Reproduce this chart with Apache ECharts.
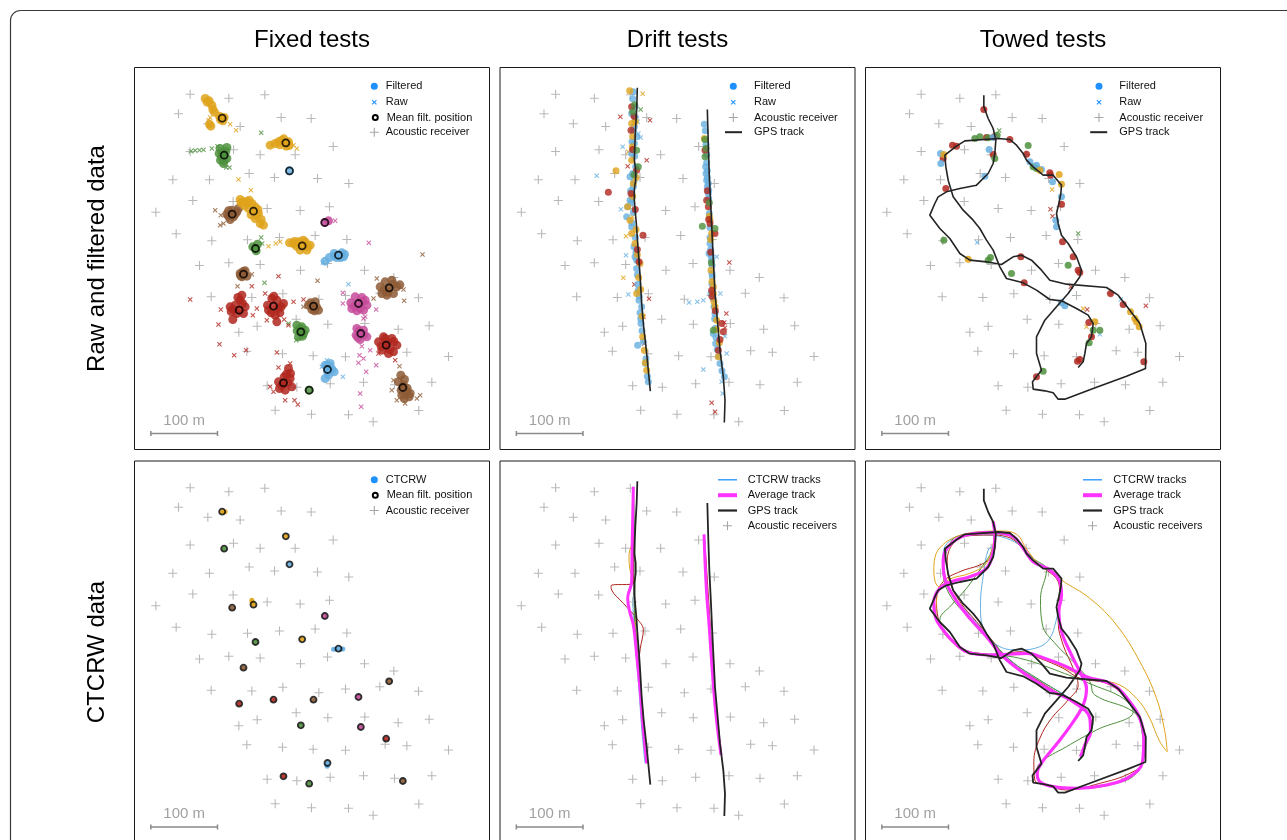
<!DOCTYPE html>
<html>
<head>
<meta charset="utf-8">
<title>Acoustic positioning tests</title>
<script src="https://cdn.jsdelivr.net/npm/echarts/dist/echarts.min.js"></script>
<style>
  html, body { margin: 0; padding: 0; background: #fff; }
  #chart { width: 1287px; height: 840px; }
</style>
</head>
<body>
<div id="chart"></div>
<script>
// ---- Data (local metric grid, metres east / north of the panel origin) ----

// Colour of each tag (one tag per transmitter / test run)
const tagColors = { Y: '#DFA31B', G: '#4E903D', N: '#8D5B35', R: '#B0271F', M: '#C64B9A', B: '#66AFE0' };

// Acoustic receiver array (shared by every test)
const receivers = [
  [83.5,533],[141.5,527],[195.5,532],[66,503.5],[110,488.5],[158.5,484.5],[220,498],[265,496.5],
  [83.5,447],[148.5,449.5],[188.5,442],[241,442],[298,454.5],[57.5,404.5],[112.5,404.5],[172,414],
  [210,408],[274.5,406.5],[321.5,399],[87.5,373.5],[148,372],[199,361.5],[248.5,358.5],[292.5,364],
  [32,356],[62.5,323.5],[116,313],[169.5,314.5],[217.5,318],[271,321],[318.5,315],[97.5,276],
  [141.5,280],[188.5,277.5],[249,269],[289.5,279],[345,269],[389,258],[115,229],[176,228],
  [222.5,233.5],[276.5,225.5],[316.5,231],[368,234.5],[426,227.5],[242.5,195.5],[184,185],[156.5,176],
  [290,188],[345.5,189],[395.5,180.5],[442,185.5],[168.5,147.5],[222,143.5],[268,140.5],[316.5,139],
  [376,148],[408.5,146],[471,139.5],[199,95.5],[243.5,93.5],[293.5,98.5],[343.5,101],[390,97],
  [446,101],[211,59],[265.5,53],[321,52],[358,41.5],[426.5,58.5]
];

// Fixed tests: filtered detections
const fixedFiltered = [
  [106,526.5,'Y'],[112,523,'Y'],[116,516.5,'Y'],[117.5,510,'Y'],[127.5,500,'Y'],[134.5,498,'Y'],[132.5,493,'Y'],[131,497,'Y'],[112.5,488,'Y'],[114.5,485,'Y'],[120,506,'Y'],[109,521,'Y'],[129,495,'Y'],
  [128.5,451.5,'G'],[138.5,453,'G'],[131,439,'G'],[138.5,436.5,'G'],[133.5,429,'G'],[134.5,441.5,'G'],[127,444,'G'],[131,446,'G'],[137,447,'G'],[129,434,'G'],[134,433,'G'],
  [221,464,'Y'],[231,461.5,'Y'],[227.5,455,'Y'],[216,461.5,'Y'],[227,460,'Y'],[211,459,'Y'],[203.5,456.5,'Y'],[224,466,'Y'],[218,457,'Y'],[232,456,'Y'],
  [232.5,418,'B'],
  [138.5,353,'N'],[146,359,'N'],[153.5,356.5,'N'],[148.5,349,'N'],[143.5,345,'N'],[156,361.5,'N'],[146.5,353,'N'],[141,350,'N'],[151,353,'N'],[141,358,'N'],
  [158.5,375,'Y'],[168.5,371.5,'Y'],[176,369,'Y'],[181,364,'Y'],[186,354,'Y'],[181,346.5,'Y'],[188.5,339,'Y'],[193.5,336.5,'Y'],[171,361.5,'Y'],[163.5,371.5,'Y'],[178.5,357.5,'Y'],[175,352,'Y'],
  [165,366,'Y'],[183,351,'Y'],[190,345,'Y'],[172,374,'Y'],[160,370,'Y'],[185,360,'Y'],
  [285.5,340.5,'M'],[291,343,'M'],
  [177.5,304,'G'],[184.5,308,'G'],[182.5,298,'G'],[181.5,301.5,'G'],
  [238.5,309,'Y'],[246,311.5,'Y'],[256,311.5,'Y'],[263.5,306.5,'Y'],[258.5,299,'Y'],[248.5,299,'Y'],[232.5,310,'Y'],[251.5,305.5,'Y'],[243,305,'Y'],[253,314,'Y'],[260,304,'Y'],[240,312,'Y'],
  [299.5,294,'B'],[311,295,'B'],[313.5,289,'B'],[303.5,288,'B'],[292.5,288,'B'],[286,282.5,'B'],[306,291.5,'B'],[300,290,'B'],[309,288,'B'],[315,293,'B'],
  [158.5,264,'N'],[166,268,'N'],[168.5,260,'N'],[161,259,'N'],[163.5,263,'N'],[163,267,'N'],[159,261,'N'],
  [143.5,214,'R'],[151,216.5,'R'],[158.5,224,'R'],[161,231.5,'R'],[166,214,'R'],[163.5,204,'R'],[153.5,204,'R'],[147.5,195,'R'],[157,209,'R'],[148,210,'R'],[162,219,'R'],[155,228,'R'],[145,207,'R'],
  [199.5,216.5,'R'],[206,226.5,'R'],[213.5,224,'R'],[216,211.5,'R'],[211,201.5,'R'],[213.5,191.5,'R'],[223.5,219,'R'],[201,209,'R'],[208.5,215,'R'],[205,205,'R'],[218,205,'R'],[209,230,'R'],[220,214,'R'],
  [261,216.5,'N'],[271,221.5,'N'],[276,209,'N'],[266,210,'N'],[268.5,215,'N'],[264,220,'N'],[273,214,'N'],[270,208,'N'],
  [324.5,220,'M'],[331,229,'M'],[341,228,'M'],[348.5,216.5,'M'],[343.5,209,'M'],[333.5,208,'M'],[326,211.5,'M'],[336,219,'M'],[330,215,'M'],[342,222,'M'],[338,212,'M'],[346,224,'M'],
  [368.5,244,'N'],[376,251.5,'N'],[386,254,'N'],[393.5,244,'N'],[388.5,234,'N'],[378.5,231.5,'N'],[371,234,'N'],[382,242.5,'N'],[375,240,'N'],[388,248,'N'],[380,236,'N'],[398,247,'N'],
  [243.5,186.5,'G'],[248.5,181.5,'G'],[253.5,174,'G'],[246,169,'G'],[256,179,'G'],[249.5,176.5,'G'],[251,184,'G'],[244,178,'G'],[252,170,'G'],
  [333.5,181.5,'M'],[343.5,179,'M'],[348.5,169,'M'],[338.5,165,'M'],[332.5,171.5,'M'],[339.5,174,'M'],[337,178,'M'],[344,172,'M'],[335,168,'M'],
  [366,161.5,'R'],[376,166.5,'R'],[386,166.5,'R'],[393.5,156.5,'R'],[388.5,146.5,'R'],[381,144,'R'],[371,149,'R'],[373.5,169,'R'],[377.5,156.5,'R'],[380,160,'R'],[370,155,'R'],[389,162,'R'],[383,150,'R'],
  [286,126.5,'B'],[293.5,124,'B'],[299.5,116.5,'B'],[291,111.5,'B'],[286,106.5,'B'],[293.5,129,'B'],[289.5,120,'B'],[290,116,'B'],[296,120,'B'],[289,126,'B'],
  [216,101.5,'R'],[224.5,109,'R'],[233.5,106.5,'R'],[236,94,'R'],[226,89,'R'],[217.5,91.5,'R'],[231,121.5,'R'],[223.5,100,'R'],[221,96,'R'],[230,100,'R'],[228,113,'R'],[234,114,'R'],
  [262,89,'G'],
  [399.5,111.5,'N'],[396,101.5,'N'],[403.5,96.5,'N'],[408.5,86.5,'N'],[401,81.5,'N'],[413.5,84,'N'],[404.5,76.5,'N'],[402.5,93,'N'],[405,105,'N'],[400,89,'N'],[409,92,'N'],[412,79,'N']
];

// Fixed tests: raw detections
const fixedRaw = [
  [113.5,498,'Y'],[143.5,488,'Y'],[152.5,479,'Y'],[111,494,'Y'],[243.5,451.5,'Y'],[238.5,456.5,'Y'],[206,456.5,'Y'],[174.5,389,'Y'],[156,405,'Y'],[201,305,'Y'],[212,309,'Y'],[218.5,311.5,'Y'],
  [84.5,447.5,'G'],[91,448.5,'G'],[97.5,449,'G'],[103.5,449.5,'G'],[116,451.5,'G'],[124.5,455,'G'],[137.5,423,'G'],[142.5,423,'G'],[190,475,'G'],[190,318,'G'],[191.5,309,'G'],[242.5,164,'G'],[231,189,'G'],[195,250,'G'],
  [121,359,'N'],[129.5,351.5,'N'],[128.5,336.5,'N'],[133.5,339,'N'],[176,263,'N'],[154.5,245,'N'],[253.5,214,'N'],[274.5,253,'N'],[363.5,256.5,'N'],[403.5,240,'N'],[358.5,226.5,'N'],[432,292.5,'N'],[404.5,223,'N'],[388.5,104,'N'],[386,89,'N'],[393.5,74,'N'],[428.5,81.5,'N'],[423.5,76.5,'N'],[406,69,'N'],[397.5,125,'N'],
  [301,343,'M'],[312.5,219,'M'],[362.5,210,'M'],[346,199,'M'],[351.5,310,'M'],[341,155,'M'],[337.5,141.5,'M'],[343.5,136.5,'M'],[336,130,'M'],[347.5,116.5,'M'],[338.5,84,'M'],[340,64,'M'],[362.5,126.5,'M'],[353.5,149,'M'],[343.5,196.5,'M'],[312.5,235,'M'],
  [282.5,280.5,'B'],[321,248,'B'],[281,124,'B'],[312.5,109,'B'],[288.5,134,'B'],
  [83.5,225,'R'],[129.5,210,'R'],[126,187.5,'R'],[127.5,158,'R'],[149.5,141.5,'R'],[177.5,201.5,'R'],[183.5,211.5,'R'],[176,245,'R'],[167.5,149,'R'],[196,234,'R'],[198.5,194,'R'],[216,260,'R'],[224.5,195,'R'],[238.5,221.5,'R'],[253.5,225,'R'],[231,186.5,'R'],[213.5,145.5,'R'],[366,144,'R'],[391,134,'R'],[216,123,'R'],[233.5,129,'R'],[208.5,86.5,'R'],[226,74,'R'],[240,74,'R'],[245,67.5,'R'],[203.5,94,'R']
];

// Fixed tests: mean filtered position of each tag
const fixedMeans = [
  [131.5,497,'Y'],[134.5,441.5,'G'],[227,460,'Y'],[232.5,418,'B'],[146.5,353,'N'],[178.5,357.5,'Y'],
  [285.5,340.5,'M'],[181.5,301.5,'G'],[251.5,305.5,'Y'],[306,291.5,'B'],[163.5,263,'N'],[157,209,'R'],
  [208.5,215,'R'],[268.5,215,'N'],[336,219,'M'],[382,242.5,'N'],[249.5,176.5,'G'],[339.5,174,'M'],
  [377.5,156.5,'R'],[289.5,120,'B'],[223.5,100,'R'],[262,89,'G'],[402.5,93,'N']
];

// Fixed tests: CTCRW-predicted positions
const fixedCtcrw = [
  [131.5,497,'Y'],[136,497,'Y'],[134.5,441.5,'G'],[227,460,'Y'],[232.5,418,'B'],[146.5,353,'N'],
  [178.5,357.5,'Y'],[176,364,'Y'],[176.5,361,'Y'],[285.5,340.5,'M'],[181.5,301.5,'G'],[251.5,305.5,'Y'],
  [298.5,290.5,'B'],[302,291,'B'],[306,291.5,'B'],[310,291,'B'],[312.5,291,'B'],[163.5,263,'N'],
  [157,209,'R'],[208.5,215,'R'],[268.5,215,'N'],[336,219,'M'],[382,242.5,'N'],[249.5,176.5,'G'],
  [339.5,174,'M'],[377.5,156.5,'R'],[289.5,120,'B'],[288.5,117,'B'],[289,115,'B'],[223.5,100,'R'],
  [262,89,'G'],[402.5,93,'N']
];

// Drift tests: GPS tracks of the two drifts
const driftGpsA = [
  [206,542.5],[205,510],[203,475],[202,450],[201.5,434],[203.5,420],[203.5,404],[201.5,390],[201.5,374],
  [203,355],[204.5,339],[206.5,309],[208.5,284],[210.5,254],[212.5,219],[215.5,184],[220,144],[225.5,87.5]
];
const driftGpsB = [
  [311,510],[312.5,454],[314,409],[316.5,359],[318.5,314],[320.5,274],[322.5,234],[326.5,189],
  [330,149],[335,109],[337.5,74],[336.5,40.5]
];

// Drift tests: filtered detections
const driftFiltered = [
  [200,536.5,'B'],[202.5,514,'B'],[197.5,504,'B'],[201.5,484,'B'],[205,469,'B'],[197.5,444,'B'],[203.5,424,'B'],[195,409,'B'],[200,394,'B'],[198.5,379,'B'],[191.5,364,'B'],[190,349,'B'],[197.5,334,'B'],[201,304,'B'],[202.5,289,'B'],[205,271.5,'B'],[207.5,239,'B'],[208.5,224,'B'],[211.5,189,'B'],[206.5,156.5,'B'],[218.5,129,'B'],[222.5,101.5,'B'],[195,374,'B'],[201.5,459,'B'],[205,284,'B'],[212.5,214,'B'],
  [199,526,'B'],[203,498,'B'],[200,478,'B'],[198,462,'B'],[202,440,'B'],[199,414,'B'],[201,402,'B'],[196,388,'B'],[197,370,'B'],[200,356,'B'],[198,340,'B'],[203,318,'B'],[204,296,'B'],[206,262,'B'],[207,248,'B'],[209,230,'B'],[210,205,'B'],[211,196,'B'],[213,178,'B'],[215,162,'B'],[219,136,'B'],[221,110,'B'],
  [194.5,538,'Y'],[197.5,489,'Y'],[198.5,454,'Y'],[197.5,434,'Y'],[174,418,'Y'],[200,399,'Y'],[195,344,'Y'],[197.5,324,'Y'],[202.5,309,'Y'],[210,279,'Y'],[205,234,'Y'],[214,169,'Y'],[216.5,149,'Y'],[220,119,'Y'],[191.5,364,'Y'],
  [203,492,'Y'],[199,470,'Y'],[204,408,'Y'],[199,380,'Y'],[204,330,'Y'],[206,292,'Y'],[208,258,'Y'],[211,240,'Y'],[213,200,'Y'],[218,130,'Y'],
  [197.5,514,'R'],[196.5,479,'R'],[205,419,'R'],[196.5,384,'R'],[162.5,386,'R'],[214.5,321.5,'R'],[208.5,281.5,'R'],[201,500,'R'],[199,450,'R'],[203,360,'R'],[206,300,'R'],
  [199,506.5,'G'],[207.5,424,'G'],[205,449,'G'],[202,517,'G'],[201,412,'G'],
  [306.5,488,'B'],[308.5,424,'B'],[310,404,'B'],[311,394,'B'],[312.5,384,'B'],[315,309,'B'],[317.5,284,'B'],[318.5,259,'B'],[316.5,234,'B'],[322.5,204,'B'],[323.5,159,'B'],[330,129,'B'],[336.5,109,'B'],[312.5,399,'B'],[320,174,'B'],[309,414,'B'],[313.5,294,'B'],
  [308,478,'B'],[309,458,'B'],[310,442,'B'],[310,430,'B'],[311,418,'B'],[311,408,'B'],[313,389,'B'],[313,376,'B'],[314,354,'B'],[315,333,'B'],[315,318,'B'],[316,300,'B'],[317,290,'B'],[318,276,'B'],[318,264,'B'],[318,248,'B'],[320,226,'B'],[321,214,'B'],[322,196,'B'],[323,182,'B'],[324,168,'B'],[326,150,'B'],[328,140,'B'],[333,118,'B'],
  [306.5,466.5,'Y'],[315,344,'Y'],[317.5,324,'Y'],[316.5,269,'Y'],[320,234,'Y'],[322.5,214,'Y'],[327.5,139,'Y'],[325,194,'Y'],[314,350,'Y'],[316,315,'Y'],[318,252,'Y'],[320,244,'Y'],[321,222,'Y'],[325,180,'Y'],[329,160,'Y'],
  [307.5,449,'R'],[310,374,'R'],[315,339,'R'],[312.5,364,'R'],[322.5,324,'R'],[317.5,239,'R'],[335,176.5,'R'],[327.5,149,'R'],[332.5,189,'R'],[311,388,'R'],[313,345,'R'],[316,296,'R'],[318,230,'R'],[323,208,'R'],[330,165,'R'],
  [307.5,439,'G'],[303.5,335,'G'],[322.5,331.5,'G'],[307.5,465,'G'],[320,179,'G'],[309,452,'G'],[314,370,'G'],[317,280,'G']
];

// Drift tests: raw detections
const driftRaw = [
  [184,454,'B'],[145,410.5,'B'],[181.5,360.5,'B'],[189,291.5,'B'],[192.5,232.5,'B'],[207.5,474,'B'],[211,468,'B'],[206.5,491.5,'B'],
  [214,533.5,'Y'],[192.5,446.5,'Y'],[189,320,'Y'],[185,257.5,'Y'],[198.5,349,'Y'],
  [180.5,499,'R'],[225,494,'R'],[220,434,'R'],[191.5,425,'R'],[201.5,247.5,'R'],[223.5,226,'R'],[215,199,'R'],[216.5,159,'R'],
  [211,510,'G'],
  [283.5,220.5,'B'],[296,221.5,'B'],[305,224,'B'],[330.5,234,'B'],[337.5,170,'B'],[340,144,'B'],[305,120,'B'],[332.5,101.5,'B'],[334,84,'B'],[325,289,'B'],
  [344,280.5,'R'],[339.5,204,'R'],[336.5,190.5,'R'],[337.5,182.5,'R'],[317.5,70,'R'],[322.5,56.5,'R']
];

// Drift tests: CTCRW tracks per tag and their average
const driftTrackBlueA = [[199,534.5],[199.5,482],[200,432],[200.5,387],[199.5,352],[201.5,317],[205,272],[209,222],[212.5,172],[217.5,119.5]];
const driftTrackYellowA = [[199.5,532],[200,457],[193.5,432],[195,409.5],[201,389.5],[201.5,362],[205,302],[210,232],[215,172],[220,122]];
const driftTrackRedA = [[199.5,532],[200.5,432],[200.5,389.5],[166.5,386],[167.5,379.5],[185,359.5],[205,337],[215,319.5],[210.5,292],[207.5,262],[211,217],[215.5,157],[220,119.5]];
const driftTrackGreenA = [[200,532],[201.5,482],[202.5,382],[201.5,352],[207.5,272],[212.5,202],[216.5,142]];
const driftTrackBlueB = [[306.5,463],[309,407],[312.5,357],[316.5,302],[320,252],[323.5,202],[328.5,152],[331.5,132]];
const driftTrackRedB = [[306.5,462],[312.5,372],[317.5,292],[322.5,222],[330.5,137]];
const driftAverageA = [[200,534.5],[199,482],[198,432],[197.5,392],[191.5,367],[194.5,347],[200,327],[205,282],[210,232],[214,182],[220,119.5]];
const driftAverageB = [[306,463],[309.5,382],[314,322],[318.5,257],[324,192],[331.5,132]];

// Towed tests: GPS track of the boat
const towedGps = [
  [177.5,531.5],[177.5,514],[184,496.5],[191.5,481.5],[195.5,464],[194,444],[191.5,429],[184,414],[166.5,396.5],
  [141.5,391.5],[121.5,386.5],[109,379],[104,369],[96.5,351.5],[111.5,331.5],[126.5,316.5],[141.5,294],[156.5,284],
  [181.5,281.5],[204,277.5],[221.5,289],[234,291.5],[249,284],[264,269],[276.5,254],[301.5,248],[361.5,243],
  [379,231.5],[396.5,209],[411.5,189],[420.5,159],[420,121.5],[391.5,110],[341.5,91.5],[299,75.5],[289,75.5],
  [281.5,85],[269,88],[251.5,90.5],[250.5,101.5],[264,119],[256.5,144],[256.5,169],[269,194],[286.5,214],
  [304,234],[321.5,259],[324,269],[316.5,289],[304,309],[294,321.5],[289,339],[286.5,354],[290,369],[293,384],
  [294,396.5],[281.5,411.5],[266.5,411.5],[251.5,424],[241.5,434],[236.5,444],[226.5,456.5],[216.5,465],[199,466.5],
  [149,463],[136.5,455],[119,441.5],[120.5,424],[124,404],[131.5,379],[146.5,359],[161.5,344],[171.5,331.5],
  [181.5,314],[191.5,299],[201.5,274],[211.5,256.5],[236.5,250],[256.5,239],[276.5,225],[294,223],[316.5,211.5],
  [334,201.5],[341.5,189],[339,169],[331.5,159],[329,144],[326.5,131.5],[319,123]
];

// Towed tests: filtered detections
const towedFiltered = [
  [177.5,510,'R'],[181.5,468,'R'],[193,469,'R'],[216.5,465,'R'],[241.5,443,'R'],[116.5,436.5,'R'],[136.5,455,'R'],[120.5,391.5,'R'],[294,368,'R'],[295.5,311.5,'R'],[311.5,289,'R'],[319,269,'R'],[321.5,265.5,'R'],[233,289,'R'],[238,250,'R'],[335,190.5,'R'],[339,169,'R'],[318,132.5,'R'],[321.5,135,'R'],[256.5,109,'R'],[367.5,234,'R'],[386.5,217.5,'R'],[417.5,131.5,'R'],[276.5,415,'R'],[191.5,442.5,'R'],[277.5,411.5,'R'],[130.5,456.5,'R'],
  [164,466.5,'G'],[171.5,469,'G'],[184,467.5,'G'],[244,456,'G'],[251.5,424,'G'],[117.5,314,'G'],[184,284,'G'],[187.5,288,'G'],[219,264,'G'],[304,276.5,'G'],[351.5,179,'G'],[341.5,179,'G'],[335.5,160,'G'],[266.5,117.5,'G'],[194,436.5,'G'],[197.5,471.5,'G'],[256.5,421.5,'G'],
  [112.5,444,'B'],[113,429,'B'],[185.5,450,'B'],[179,410,'B'],[246.5,431.5,'B'],[256.5,426.5,'B'],[280.5,401.5,'B'],[294,379,'B'],[285.5,344,'B'],[286.5,334,'B'],[299,215.5,'B'],[294,220,'B'],[191.5,468,'B'],[264,420,'B'],
  [117.5,442.5,'Y'],[261.5,419,'Y'],[294,398,'Y'],[154,285.5,'Y'],[344,191.5,'Y'],[397.5,206.5,'Y'],[404,196.5,'Y'],[410.5,184,'Y'],[406.5,191.5,'Y'],[290.5,412.5,'Y']
];

// Towed tests: raw detections
const towedRaw = [
  [200.5,478.5,'G'],[319,324,'G'],
  [277.5,360.5,'R'],[280.5,350,'R'],[308,244,'R'],[332.5,210,'R'],[420.5,215.5,'R'],
  [280,390,'Y'],[326.5,211.5,'Y'],[331.5,184,'Y'],
  [167.5,310.5,'B'],[351.5,173,'B'],[383,225,'B']
];

// Towed tests: CTCRW tracks per tag and their average
const towedTrackBlue = [
  [194,474.5],[191.5,447],[184,439.5],[177.5,407],[172.5,357],[177.5,319.5],[201.5,294.5],[231.5,289.5],[261.5,294.5],
  [276.5,307],[285.5,332],[291.5,362],[294,384.5],[284,404.5],[269,412],[251.5,427],[234,444.5],[211.5,457],[181.5,462],
  [141.5,460.5],[122.5,449.5],[116.5,432],[119,402],[131.5,372],[156.5,342],[184,309.5],[211.5,279.5],[251.5,249.5],
  [286.5,229.5],[316.5,209.5],[336.5,187],[336.5,167],[326.5,142],[321.5,124.5]
];
const towedTrackRed = [
  [191.5,479.5],[194,447],[186.5,427],[171.5,417],[141.5,407],[116.5,392],[106.5,367],[109,337],[121.5,314.5],[141.5,292],
  [171.5,284.5],[201.5,283],[231.5,287],[261.5,277],[296.5,262],[321.5,247],[361.5,239.5],[386.5,222],[406.5,194.5],[419,157],
  [416.5,122],[396.5,104.5],[351.5,89.5],[301.5,79.5],[271.5,87],[254,94.5],[252.5,122],[261.5,157],[279,187],[304,214.5],
  [319,237],[311.5,262],[296.5,297],[289,332],[291.5,372],[289,392],[271.5,409.5],[246.5,427],[231.5,447],[211.5,459.5],
  [186.5,462],[151.5,460.5],[131.5,449.5],[122.5,422],[126.5,392],[141.5,362],[166.5,332],[191.5,302],[216.5,272],[261.5,242],
  [301.5,217],[331.5,197],[339,177],[331.5,152],[324,127]
];
const towedTrackGreen = [
  [191.5,479.5],[193,457],[189,437],[176.5,417],[151.5,382],[129,357],[111.5,334.5],[116.5,317],[136.5,297],[166.5,284.5],
  [201.5,282],[241.5,274.5],[291.5,257],[341.5,237],[386.5,217],[401.5,197],[346.5,169.5],[301.5,144.5],[261.5,119.5],[256.5,102],
  [271.5,87],[321.5,82],[376.5,89.5],[406.5,104.5],[416.5,132],[414,172],[401.5,197],[344,222],[336.5,242],[311.5,272],
  [286.5,297],[265.5,327],[262.5,367],[271.5,409.5],[251.5,427],[231.5,447],[211.5,462],[171.5,464.5],[136.5,459.5],[122.5,439.5],
  [116.5,407],[126.5,372],[156.5,337],[186.5,307],[216.5,274.5],[261.5,244.5],[301.5,219.5],[331.5,199.5],[341.5,182],[336.5,162],
  [327.5,137],[322.5,126]
];
const towedTrackYellow = [
  [191.5,479.5],[192.5,464.5],[189,437],[179,417],[156.5,404.5],[126.5,396],[110.5,384.5],[102.5,407],[104.5,429.5],[115.5,447],
  [136.5,459.5],[171.5,467],[201.5,468],[226.5,463],[241.5,441],[261.5,417],[279,408],[294,394.5],[336.5,367],[376.5,327],
  [411.5,272],[436.5,217],[449,167],[452.5,137],[441.5,152],[424,192],[406.5,217],[381.5,237],[351.5,244.5],[311.5,257],
  [271.5,274.5],[231.5,284.5],[191.5,282],[156.5,284.5],[129,302],[112.5,324.5],[105.5,347],[107.5,372]
];
const towedAverage = [
  [191.5,482],[194,462],[191.5,437],[181.5,412],[156.5,399.5],[129,392],[111.5,382],[102.5,362],[105.5,337],[116.5,319.5],
  [131.5,302],[154,286],[186.5,282],[211.5,283],[241.5,284.5],[271.5,276],[301.5,264.5],[331.5,249.5],[371.5,237],[396.5,212],
  [411.5,187],[417.5,157],[415.5,122],[396.5,99.5],[361.5,87],[316.5,82],[281.5,84.5],[261.5,92],[257.5,104.5],[265.5,122],
  [281.5,142],[306.5,174.5],[326.5,207],[331.5,232],[324,252],[309,282],[294,317],[290,347],[294,372],[291.5,392],
  [276.5,409.5],[251.5,422],[236.5,442],[221.5,459.5],[191.5,466],[151.5,462],[124,444.5],[116.5,422],[119,397],[134,367],
  [156.5,337],[181.5,309.5],[206.5,279.5],[241.5,252],[281.5,227],[311.5,212],[336.5,187],[337.5,167],[329,147],[322.5,129.5]
];

// Scale bar
const scaleBarOrigin = [24.5, 24];
const scaleBarLength = 100;
const scaleBarText = '100 m';

// Column and row headings
const columnTitles = ['Fixed tests', 'Drift tests', 'Towed tests'];
const rowTitles = ['Raw and filtered data', 'CTCRW data'];

// ---- Layout ----
const FONT = '"Liberation Sans", Arial, Helvetica, sans-serif';
const colLeft = [134.5, 500, 865.5];
const rowTop = [67.5, 461];
const PANEL_W = 355, PANEL_H = 382;
const EXTENT_X = 532.5, EXTENT_Y = 573;   // metres spanned by each panel (1 px = 1.5 m)

const PLUS = 'path://M4.4,0H5.6V4.4H10V5.6H5.6V10H4.4V5.6H0V4.4H4.4Z';
const CROSS = 'path://M0,1.5L1.5,0L5,3.5L8.5,0L10,1.5L6.5,5L10,8.5L8.5,10L5,6.5L1.5,10L0,8.5L3.5,5Z';
const RECEIVER_GREY = '#a6a6a6';
const GPS_BLACK = '#242424';
const LEGEND_BLUE = '#1E90FF';
const AVG_MAGENTA = '#FF33FF';

const grids = [], xAxes = [], yAxes = [];
for (let r = 0; r < 2; r++) {
  for (let c = 0; c < 3; c++) {
    grids.push({ left: colLeft[c], top: rowTop[r], width: PANEL_W, height: PANEL_H,
      show: true, borderColor: '#1a1a1a', borderWidth: 1, backgroundColor: '#fff', outerBoundsMode: 'none' });
    const g = grids.length - 1;
    xAxes.push({ type: 'value', gridIndex: g, min: 0, max: EXTENT_X, show: false });
    yAxes.push({ type: 'value', gridIndex: g, min: 0, max: EXTENT_Y, show: false });
  }
}
// grid indices: 0 fixed raw, 1 drift raw, 2 towed raw, 3 fixed CTCRW, 4 drift CTCRW, 5 towed CTCRW

const series = [];
const ax = g => ({ xAxisIndex: g, yAxisIndex: g });
const tagged = arr => arr.map(p => ({ value: [p[0], p[1]], itemStyle: { color: tagColors[p[2]] } }));
const xy = arr => arr.map(p => [p[0], p[1]]);

function addReceivers(g, name) {
  series.push({ type: 'scatter', name, ...ax(g), data: receivers, symbol: PLUS, symbolSize: 9,
    itemStyle: { color: RECEIVER_GREY }, z: 2, silent: true });
}
function addScaleBar(g) {
  const x0 = scaleBarOrigin[0], y0 = scaleBarOrigin[1], x1 = x0 + scaleBarLength, t = 3.75;
  series.push({ type: 'line', ...ax(g), data: [[x0, y0 + t], [x0, y0 - t], [x0, y0], [x1, y0], [x1, y0 + t], [x1, y0 - t]],
    symbol: 'none', lineStyle: { color: '#8a8a8a', width: 1.5 }, silent: true, z: 3 });
  series.push({ type: 'scatter', ...ax(g), data: [[x0 + scaleBarLength / 2, y0]], symbolSize: 1,
    itemStyle: { color: 'rgba(0,0,0,0)' }, silent: true, z: 3,
    label: { show: true, position: 'top', distance: 5, formatter: scaleBarText, color: '#8a8a8a', fontSize: 15, fontFamily: FONT } });
}
function addRaw(g, arr) {
  series.push({ type: 'scatter', name: 'Raw', ...ax(g), data: tagged(arr), symbol: CROSS, symbolSize: 5, z: 3, silent: true });
}
function addFiltered(g, arr, size, opacity) {
  series.push({ type: 'scatter', name: 'Filtered', ...ax(g), data: tagged(arr), symbol: 'circle', symbolSize: size,
    itemStyle: { opacity }, z: 4, silent: true });
}
function addMeans(g, size) {
  series.push({ type: 'scatter', name: 'Mean filt. position', ...ax(g), data: xy(fixedMeans), symbol: 'circle', symbolSize: size,
    itemStyle: { color: 'rgba(0,0,0,0)', borderColor: '#000', borderWidth: 1.8 }, z: 6, silent: true });
}
function addTrack(g, name, pts, color, width, z, smooth) {
  series.push({ type: 'line', name, ...ax(g), data: pts, symbol: 'none', smooth: smooth || false,
    lineStyle: { color, width }, z, silent: true });
}

// Fixed tests, raw & filtered
addReceivers(0, 'Acoustic receiver');
addRaw(0, fixedRaw);
addFiltered(0, fixedFiltered, 9, 0.85);
addMeans(0, 7);
addScaleBar(0);

// Drift tests, raw & filtered
addReceivers(1, 'Acoustic receiver');
addRaw(1, driftRaw);
addFiltered(1, driftFiltered, 7, 0.8);
addTrack(1, 'GPS track', driftGpsA, GPS_BLACK, 1.6, 7);
addTrack(1, 'GPS track', driftGpsB, GPS_BLACK, 1.6, 7);
addScaleBar(1);

// Towed tests, raw & filtered
addReceivers(2, 'Acoustic receiver');
addRaw(2, towedRaw);
addFiltered(2, towedFiltered, 7, 0.85);
addTrack(2, 'GPS track', towedGps, GPS_BLACK, 1.6, 7);
addScaleBar(2);

// Fixed tests, CTCRW
addReceivers(3, 'Acoustic receiver');
series.push({ type: 'scatter', name: 'CTCRW', ...ax(3), data: tagged(fixedCtcrw), symbol: 'circle', symbolSize: 5,
  itemStyle: { opacity: 0.9 }, z: 4, silent: true });
addMeans(3, 6);
addScaleBar(3);

// Drift tests, CTCRW
addReceivers(4, 'Acoustic receivers');
[[driftTrackBlueA, 'B'], [driftTrackYellowA, 'Y'], [driftTrackRedA, 'R'], [driftTrackGreenA, 'G'],
 [driftTrackBlueB, 'B'], [driftTrackRedB, 'R']].forEach(([pts, tag]) =>
  addTrack(4, 'CTCRW tracks', pts, tagColors[tag], 1, 4, 0.4));
addTrack(4, 'Average track', driftAverageA, AVG_MAGENTA, 3, 5, 0.4);
addTrack(4, 'Average track', driftAverageB, AVG_MAGENTA, 3, 5, 0.4);
addTrack(4, 'GPS track', driftGpsA, GPS_BLACK, 1.8, 6);
addTrack(4, 'GPS track', driftGpsB, GPS_BLACK, 1.8, 6);
addScaleBar(4);

// Towed tests, CTCRW
addReceivers(5, 'Acoustic receivers');
[[towedTrackBlue, 'B'], [towedTrackRed, 'R'], [towedTrackGreen, 'G'], [towedTrackYellow, 'Y']].forEach(([pts, tag]) =>
  addTrack(5, 'CTCRW tracks', pts, tagColors[tag], 1, 4, 0.4));
addTrack(5, 'Average track', towedAverage, AVG_MAGENTA, 3.2, 5, 0.4);
addTrack(5, 'GPS track', towedGps, GPS_BLACK, 1.8, 6);
addScaleBar(5);

// ---- Legends: one single-entry legend per row so each icon sits exactly ----
function legendEntry(name, cx, cy, tx, w, h, icon, color) {
  return {
    show: true, orient: 'horizontal', left: cx - w / 2, top: cy - 6, padding: 0,
    itemWidth: w, itemHeight: h, selectedMode: false,
    textStyle: { fontSize: 11, color: '#111', fontFamily: FONT, padding: [0, 0, 0, Math.max(0, tx - cx - w / 2 - 5)] },
    data: [{ name, icon, itemStyle: { color, borderWidth: 0, opacity: 1 } }]
  };
}
const rowY1 = [86.7, 102.7, 118, 132.7];
const rowY2 = [480.3, 495.7, 511, 526.3];
const legends = [
  // fixed, raw
  legendEntry('Filtered', 374.3, rowY1[0], 385.7, 7, 7, 'circle', LEGEND_BLUE),
  legendEntry('Raw', 374.3, rowY1[1], 385.7, 5, 5, CROSS, LEGEND_BLUE),
  legendEntry('Mean filt. position', 374.3, rowY1[2], 385.7, 5, 5, 'emptyCircle', '#000'),
  legendEntry('Acoustic receiver', 374.3, rowY1[3], 385.7, 9, 9, PLUS, RECEIVER_GREY),
  // drift, raw
  legendEntry('Filtered', 733.3, rowY1[0], 754, 7, 7, 'circle', LEGEND_BLUE),
  legendEntry('Raw', 733.3, rowY1[1], 754, 5, 5, CROSS, LEGEND_BLUE),
  legendEntry('Acoustic receiver', 733.3, rowY1[2], 754, 9, 9, PLUS, RECEIVER_GREY),
  legendEntry('GPS track', 733.5, rowY1[3], 754, 17, 2, 'rect', GPS_BLACK),
  // towed, raw
  legendEntry('Filtered', 1099, rowY1[0], 1119.3, 7, 7, 'circle', LEGEND_BLUE),
  legendEntry('Raw', 1099, rowY1[1], 1119.3, 5, 5, CROSS, LEGEND_BLUE),
  legendEntry('Acoustic receiver', 1099, rowY1[2], 1119.3, 9, 9, PLUS, RECEIVER_GREY),
  legendEntry('GPS track', 1098.7, rowY1[3], 1119.3, 17, 2, 'rect', GPS_BLACK),
  // fixed, CTCRW
  legendEntry('CTCRW', 374.3, rowY2[0], 385.7, 7, 7, 'circle', LEGEND_BLUE),
  legendEntry('Mean filt. position', 374.3, rowY2[1], 385.7, 5, 5, 'emptyCircle', '#000'),
  legendEntry('Acoustic receiver', 374.3, rowY2[2], 385.7, 9, 9, PLUS, RECEIVER_GREY),
  // drift, CTCRW
  legendEntry('CTCRW tracks', 727.5, rowY2[0], 747.7, 19, 1.3, 'rect', LEGEND_BLUE),
  legendEntry('Average track', 727.5, rowY2[1], 747.7, 19, 4, 'rect', AVG_MAGENTA),
  legendEntry('GPS track', 727.5, rowY2[2], 747.7, 19, 2.2, 'rect', GPS_BLACK),
  legendEntry('Acoustic receivers', 727.5, rowY2[3], 747.7, 9, 9, PLUS, RECEIVER_GREY),
  // towed, CTCRW
  legendEntry('CTCRW tracks', 1092.5, rowY2[0], 1113.3, 19, 1.3, 'rect', LEGEND_BLUE),
  legendEntry('Average track', 1092.5, rowY2[1], 1113.3, 19, 4, 'rect', AVG_MAGENTA),
  legendEntry('GPS track', 1092.5, rowY2[2], 1113.3, 19, 2.2, 'rect', GPS_BLACK),
  legendEntry('Acoustic receivers', 1092.5, rowY2[3], 1113.3, 9, 9, PLUS, RECEIVER_GREY)
];

// ---- Headings and outer frame ----
const headingStyle = txt => ({ text: txt, fontSize: 24, fontFamily: FONT, fill: '#000',
  align: 'center', verticalAlign: 'middle', textAlign: 'center', textVerticalAlign: 'middle' });
const graphic = [
  { type: 'rect', shape: { x: 10.5, y: 10.5, width: 1400, height: 1000, r: 10 },
    style: { fill: 'none', stroke: '#3a3a3a', lineWidth: 1.2 }, silent: true, z: -10 }
];
columnTitles.forEach((t, c) => graphic.push({ type: 'text', x: colLeft[c] + PANEL_W / 2, y: 40, style: headingStyle(t), silent: true }));
rowTitles.forEach((t, r) => graphic.push({ type: 'text', x: 97, y: rowTop[r] + PANEL_H / 2, rotation: Math.PI / 2, style: headingStyle(t), silent: true }));

const chart = echarts.init(document.getElementById('chart'), null, { renderer: 'canvas' });
chart.setOption({
  animation: false,
  backgroundColor: '#fff',
  textStyle: { fontFamily: FONT },
  grid: grids,
  xAxis: xAxes,
  yAxis: yAxes,
  legend: legends,
  graphic: graphic,
  series: series
});
</script>
</body>
</html>
